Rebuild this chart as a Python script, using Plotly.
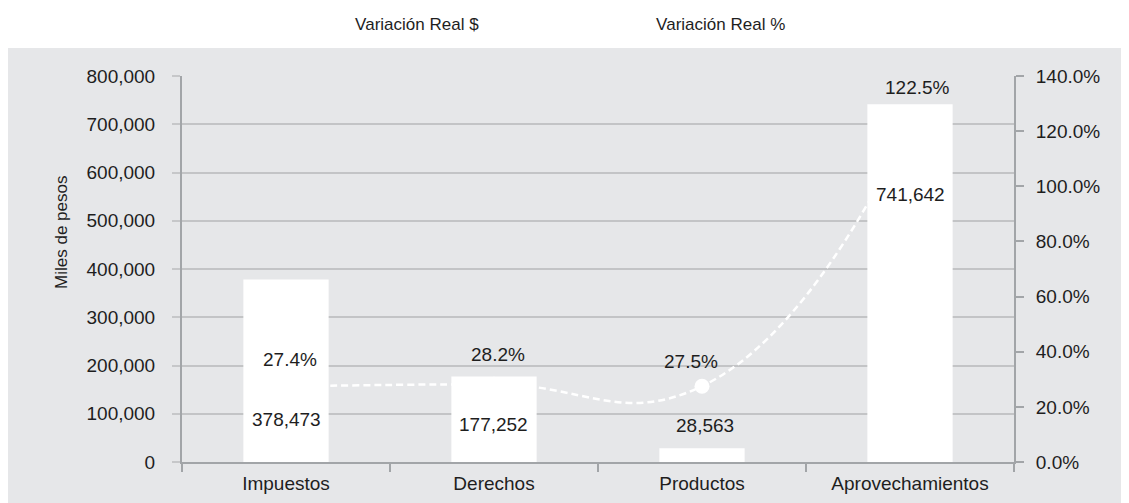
import plotly.graph_objects as go

# ---- data ----
categories = ["Impuestos", "Derechos", "Productos", "Aprovechamientos"]
variacion_pesos = [378473, 177252, 28563, 741642]
variacion_pct = [27.4, 28.2, 27.5, 122.5]
left_ticks = [0, 100000, 200000, 300000, 400000, 500000, 600000, 700000, 800000]
right_ticks = [0, 20, 40, 60, 80, 100, 120, 140]

# ---- style: label offsets (px) ----
bar_label_shift_y = [-140, -48, 23, -90]
bar_label_shift_x = [0, -1, 3, 0]
pct_label_shift_y = [27, 30, 25, 37]
pct_label_shift_x = [4, 4, -11, 7]

FONT = "Liberation Sans, Arial, sans-serif"
TXT = "#1e1e1e"
PANEL = "#e6e7e9"
GRID = "#c3c4c6"
AXIS = "#a2a5a8"

fig = go.Figure()

# line (drawn underneath bars) on primary axis (right side, %)
fig.add_trace(go.Scatter(
    x=categories, y=variacion_pct, name="Variación Real %",
    mode="lines+markers", yaxis="y", xaxis="x",
    line=dict(color="white", width=2.5, dash="7px,4px", shape="spline", smoothing=1.3),
    marker=dict(color="white", size=15, symbol="circle"),
    hoverinfo="skip",
))

# bars on overlaying axis (left side, pesos)
fig.add_trace(go.Bar(
    x=categories, y=variacion_pesos, name="Variación Real $",
    yaxis="y2", xaxis="x",
    marker=dict(color="white", line=dict(width=0)),
    width=0.41,
    hoverinfo="skip",
))

annotations = []
for i, c in enumerate(categories):
    annotations.append(dict(
        x=c, y=variacion_pesos[i], xref="x", yref="y2",
        text=f"{variacion_pesos[i]:,}", showarrow=False,
        xshift=bar_label_shift_x[i], yshift=bar_label_shift_y[i],
        font=dict(family=FONT, size=19, color=TXT),
    ))
    annotations.append(dict(
        x=c, y=variacion_pct[i], xref="x", yref="y",
        text=f"{variacion_pct[i]:.1f}%", showarrow=False,
        xshift=pct_label_shift_x[i], yshift=pct_label_shift_y[i],
        font=dict(family=FONT, size=19, color=TXT),
    ))

# axis title as annotation (placed as in reference)
annotations.append(dict(
    x=-0.1585, y=0.595, xref="paper", yref="paper",
    text="Miles de pesos", textangle=-90, showarrow=False,
    font=dict(family=FONT, size=17, color=TXT),
))

fig.update_layout(
    width=1121, height=495,
    margin=dict(l=174, r=115, t=68, b=41, autoexpand=False),
    paper_bgcolor="white",
    plot_bgcolor=PANEL,
    font=dict(family=FONT, size=19, color=TXT),
    bargap=0.59,
    showlegend=True,
    legend=dict(
        orientation="h", x=0.16, xanchor="left", y=1.135, yanchor="middle",
        bgcolor="rgba(0,0,0,0)", font=dict(family=FONT, size=17, color=TXT),
        entrywidth=256, traceorder="reversed",
    ),
    shapes=[dict(
        type="rect", xref="paper", yref="paper",
        x0=-0.25, x1=1.2, y0=-0.2, y1=1.0725,
        fillcolor=PANEL, line=dict(width=0), layer="below",
    )],
    annotations=annotations,
    xaxis=dict(
        type="category", showgrid=False, zeroline=False,
        showline=True, linecolor=AXIS, linewidth=2,
        ticks="outside", tickson="boundaries", ticklen=8, tickwidth=2, tickcolor=AXIS,
        ticklabelstandoff=3,
        tickfont=dict(family=FONT, size=19, color=TXT),
        range=[-0.5, 3.5],
    ),
    yaxis=dict(
        side="right", range=[0, 140], tickvals=right_ticks,
        ticktext=[f"{v:.1f}%" for v in right_ticks],
        showgrid=False, zeroline=False,
        showline=True, linecolor=AXIS, linewidth=2,
        ticks="outside", ticklen=8, tickwidth=2, tickcolor=AXIS,
        ticklabelstandoff=8,
        tickfont=dict(family=FONT, size=19, color=TXT),
    ),
    yaxis2=dict(
        side="left", overlaying="y", range=[0, 800000], tickvals=left_ticks,
        ticktext=[f"{v:,}" for v in left_ticks],
        showgrid=True, gridcolor=GRID, gridwidth=1.5, zeroline=False,
        showline=True, linecolor=AXIS, linewidth=2,
        ticks="outside", ticklen=8, tickwidth=2, tickcolor="#c6c7c9",
        ticklabelstandoff=13,
        tickfont=dict(family=FONT, size=19, color=TXT),
    ),
)

fig.write_html("out.html")
